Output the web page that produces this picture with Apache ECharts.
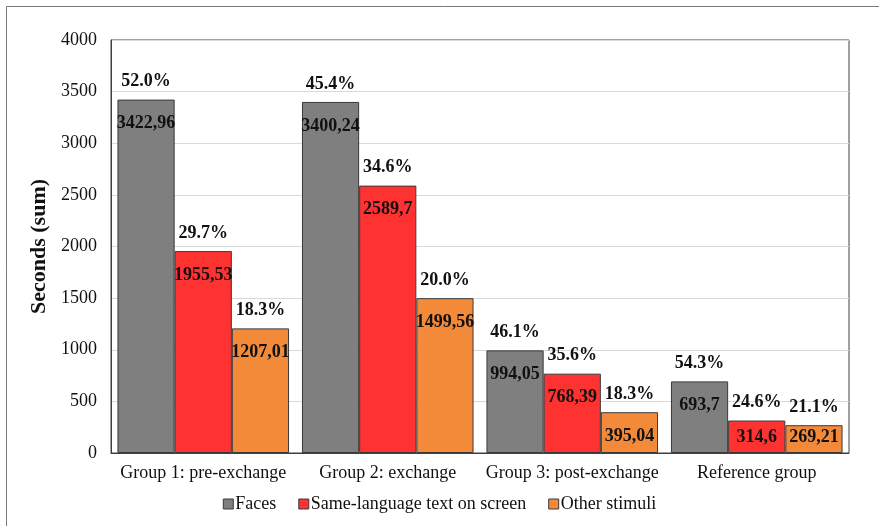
<!DOCTYPE html>
<html>
<head>
<meta charset="utf-8">
<script src="https://cdn.jsdelivr.net/npm/echarts@6/dist/echarts.min.js"></script>
<style>
html,body{margin:0;padding:0;background:#fff;}
#chart{width:879px;height:526px;}
</style>
</head>
<body>
<div id="chart"></div>
<script>
// Viewing time per stimulus type, summed per group
const categories = ['Group 1: pre-exchange', 'Group 2: exchange', 'Group 3: post-exchange', 'Reference group'];
const seriesNames = ['Faces', 'Same-language text on screen', 'Other stimuli'];
const faces = [3422.96, 3400.24, 994.05, 693.7];
const textOnScreen = [1955.53, 2589.7, 768.39, 314.6];
const otherStimuli = [1207.01, 1499.56, 395.04, 269.21];
// Share of each stimulus type within its group (%)
const facesPct = [52.0, 45.4, 46.1, 54.3];
const textPct = [29.7, 34.6, 35.6, 24.6];
const otherPct = [18.3, 20.0, 18.3, 21.1];
const yTicks = { min: 0, max: 4000, interval: 500 };

const colors = ['#7f7f7f', '#ff3232', '#f28a3a'];
const values = [faces, textOnScreen, otherStimuli];
const pcts = [facesPct, textPct, otherPct];
const serif = '"Liberation Serif", "Times New Roman", serif';

// Short bars keep their value label tucked closer to the bar top
const insideDistance = v => (v < 300 ? 3 : v < 350 ? 8 : 15);

const series = [];
values.forEach((vals, i) => {
  series.push({
    name: seriesNames[i],
    type: 'bar',
    xAxisIndex: 0,
    barGap: '0%',
    barCategoryGap: '7%',
    data: vals.map(v => ({ value: v, label: { distance: insideDistance(v) } })),
    itemStyle: { color: colors[i], borderColor: '#3a3a3a', borderWidth: 1 },
    label: {
      show: true,
      position: 'insideTop',
      formatter: p => String(p.value).replace('.', ','),
      fontFamily: serif,
      fontWeight: 'bold',
      fontSize: 18,
      color: '#111'
    },
    emphasis: { disabled: true }
  });
});
// Transparent twins carrying the percentage labels above each bar
values.forEach((vals, i) => {
  series.push({
    type: 'bar',
    xAxisIndex: 1,
    barGap: '0%',
    barCategoryGap: '7%',
    data: vals.map((v, j) => ({ value: v, pct: pcts[i][j] })),
    itemStyle: { color: 'rgba(0,0,0,0)' },
    label: {
      show: true,
      position: 'top',
      distance: 9,
      formatter: p => p.data.pct.toFixed(1) + '%',
      fontFamily: serif,
      fontWeight: 'bold',
      fontSize: 18,
      color: '#111'
    },
    silent: true,
    z: 3
  });
});

const chart = echarts.init(document.getElementById('chart'), null, { renderer: 'canvas' });
chart.setOption({
  backgroundColor: '#fff',
  animation: false,
  color: colors,
  graphic: [{
    type: 'rect',
    shape: { x: 6.5, y: 6.5, width: 1000, height: 1000 },
    style: { fill: 'none', stroke: '#7a7a7a', lineWidth: 1 },
    silent: true
  }],
  grid: { left: 111, top: 40, right: 30, bottom: 73, show: true, borderColor: '#404040', borderWidth: 1 },
  legend: {
    data: seriesNames,
    bottom: 8,
    left: 'center',
    icon: 'rect',
    itemWidth: 10,
    itemHeight: 10,
    itemGap: 22,
    textStyle: { fontFamily: serif, fontSize: 18, color: '#111', padding: [0, 0, 0, -3] },
    itemStyle: { borderColor: '#3a3a3a', borderWidth: 1 }
  },
  xAxis: [{
    type: 'category',
    data: categories,
    axisLine: { show: true, lineStyle: { color: '#404040' } },
    axisTick: { show: false },
    axisLabel: { fontFamily: serif, fontSize: 18, color: '#111', margin: 11, interval: 0 }
  }, {
    type: 'category',
    data: categories,
    show: false
  }],
  yAxis: {
    type: 'value',
    min: yTicks.min,
    max: yTicks.max,
    interval: yTicks.interval,
    name: 'Seconds (sum)',
    nameLocation: 'middle',
    nameGap: 56,
    nameTextStyle: { fontFamily: serif, fontSize: 22, fontWeight: 'bold', color: '#111' },
    axisLine: { show: true, lineStyle: { color: '#404040' } },
    axisTick: { show: false },
    splitLine: { lineStyle: { color: '#d9d9d9' } },
    axisLabel: { fontFamily: serif, fontSize: 18, color: '#111', margin: 14, formatter: v => String(v) }
  },
  series: series
});
</script>
</body>
</html>
